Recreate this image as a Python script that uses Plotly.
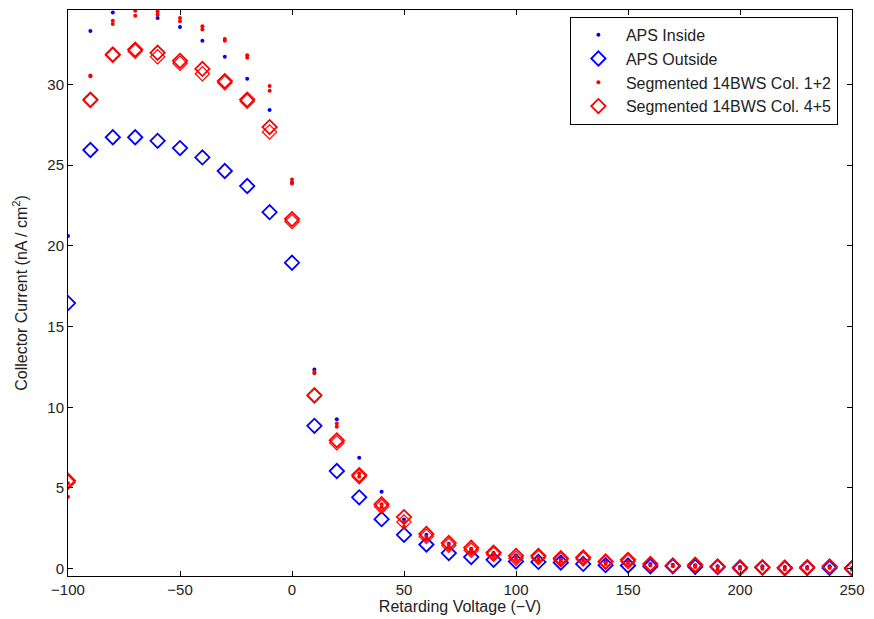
import plotly.graph_objects as go

# Retarding voltage sweep (-V)
voltage = [-100, -90, -80, -70, -60, -50, -40, -30, -20, -10, 0, 10, 20, 30, 40, 50, 60, 70,
           80, 90, 100, 110, 120, 130, 140, 150, 160, 170, 180, 190, 200, 210, 220, 230, 240, 250]

# Collector current (nA/cm^2)
aps_inside = [20.6, 33.3, 34.45, 34.9, 34.1, 33.55, 32.7, 31.7, 30.35, 28.4, 23.9, 12.33, 9.26, 6.87,
              4.77, 3.05, 2.1, 1.54, 1.23, 0.98, 0.8, 0.75, 0.6, 0.6, 0.45, 0.5, 0.3, 0.25, 0.22,
              0.15, 0.1, 0.15, 0.1, 0.1, 0.15, 0.05]
aps_outside = [16.45, 25.93, 26.72, 26.72, 26.5, 26.05, 25.47, 24.63, 23.7, 22.08, 18.95, 8.85, 6.05,
               4.42, 3.07, 2.1, 1.5, 0.97, 0.72, 0.55, 0.45, 0.42, 0.38, 0.3, 0.22, 0.2, 0.15, 0.15,
               0.12, 0.1, 0.08, 0.07, 0.06, 0.05, 0.05, 0.04]
seg12_run1 = [4.46, 30.5, 33.93, 34.55, 34.5, 34.1, 33.6, 32.8, 31.8, 29.9, 24.1, 12.2, 9.0, 5.9,
              4.0, 2.9, 2.0, 1.5, 1.2, 0.95, 0.75, 0.7, 0.55, 0.6, 0.4, 0.45, 0.25, 0.2, 0.2, 0.1,
              0.05, 0.1, 0.05, 0.05, 0.1, 0.0]
seg12_run2 = [5.3, 30.55, 33.74, 34.25, 34.3, 33.9, 33.4, 32.7, 31.65, 29.6, 23.85, 12.1, 8.8, 5.7,
              3.8, 2.6, 1.8, 1.3, 1.0, 0.8, 0.6, 0.55, 0.45, 0.5, 0.3, 0.35, 0.2, 0.15, 0.1, -0.05,
              0.0, 0.0, -0.05, 0.0, 0.05, -0.05]
seg45_run1 = [5.45, 29.05, 31.85, 32.15, 31.95, 31.45, 30.95, 30.2, 29.05, 27.35, 21.65, 10.75, 7.95,
              5.8, 4.0, 3.2, 2.15, 1.6, 1.3, 1.0, 0.8, 0.8, 0.65, 0.7, 0.45, 0.55, 0.3, 0.2, 0.25,
              0.15, 0.05, 0.1, 0.05, 0.1, 0.15, 0.0]
seg45_run2 = [5.35, 29.0, 31.8, 32.05, 31.7, 31.3, 30.65, 30.1, 28.95, 27.05, 21.5, 10.7, 7.8, 5.7,
              3.85, 2.9, 2.0, 1.45, 1.15, 0.9, 0.65, 0.7, 0.55, 0.6, 0.4, 0.45, 0.25, 0.2, 0.2, 0.1,
              0.0, 0.05, 0.0, 0.05, 0.1, 0.0]

x_ticks = [-100, -50, 0, 50, 100, 150, 200, 250]
x_tick_text = ["\u2212100", "\u221250", "0", "50", "100", "150", "200", "250"]
y_ticks = [0, 5, 10, 15, 20, 25, 30]

BLUE = "#0000ff"
RED = "#ff0000"
FONT = "Liberation Sans, Arial, sans-serif"

fig = go.Figure()

fig.add_trace(go.Scatter(x=voltage, y=aps_inside, mode="markers", name="APS Inside",
                         marker=dict(symbol="circle", size=4, color=BLUE)))
fig.add_trace(go.Scatter(x=voltage, y=aps_outside, mode="markers", name="APS Outside",
                         marker=dict(symbol="diamond-open", size=11, color=BLUE,
                                     line=dict(width=1.8, color=BLUE))))
fig.add_trace(go.Scatter(x=voltage, y=seg12_run1, mode="markers", name="Segmented 14BWS Col. 1+2",
                         legendgroup="seg12",
                         marker=dict(symbol="circle", size=4, color=RED)))
fig.add_trace(go.Scatter(x=voltage, y=seg12_run2, mode="markers", name="Segmented 14BWS Col. 1+2",
                         legendgroup="seg12", showlegend=False,
                         marker=dict(symbol="circle", size=4, color=RED)))
fig.add_trace(go.Scatter(x=voltage, y=seg45_run1, mode="markers", name="Segmented 14BWS Col. 4+5",
                         legendgroup="seg45",
                         marker=dict(symbol="diamond-open", size=11, color=RED,
                                     line=dict(width=1.8, color=RED))))
fig.add_trace(go.Scatter(x=voltage, y=seg45_run2, mode="markers", name="Segmented 14BWS Col. 4+5",
                         legendgroup="seg45", showlegend=False,
                         marker=dict(symbol="diamond-open", size=11, color=RED,
                                     line=dict(width=1.2, color=RED))))

axis_common = dict(showline=True, linecolor="black", linewidth=1, mirror="ticks",
                   ticks="inside", ticklen=5, tickcolor="black", showgrid=False,
                   zeroline=False, tickfont=dict(family=FONT, size=15, color="#222222"))

fig.update_layout(
    width=874, height=619,
    margin=dict(l=68, r=18, t=9, b=43),
    paper_bgcolor="white", plot_bgcolor="white",
    font=dict(family=FONT, size=15, color="#222222"),
    xaxis=dict(range=[-100, 250], tickvals=x_ticks, ticktext=x_tick_text,
               title=dict(text="Retarding Voltage (\u2212V)", standoff=0,
                          font=dict(family=FONT, size=16)),
               **axis_common),
    yaxis=dict(range=[-0.45, 34.6], tickvals=y_ticks,
               title=dict(text="Collector Current (nA / cm<sup>2</sup>)", standoff=15,
                          font=dict(family=FONT, size=16)),
               **axis_common),
    legend=dict(x=0.982, y=0.988, xanchor="right", yanchor="top",
                bgcolor="white", bordercolor="black", borderwidth=1,
                font=dict(family=FONT, size=16, color="#222222"),
                tracegroupgap=0, itemwidth=45, itemsizing="trace"),
    showlegend=True,
)

fig.write_html("out.html")
